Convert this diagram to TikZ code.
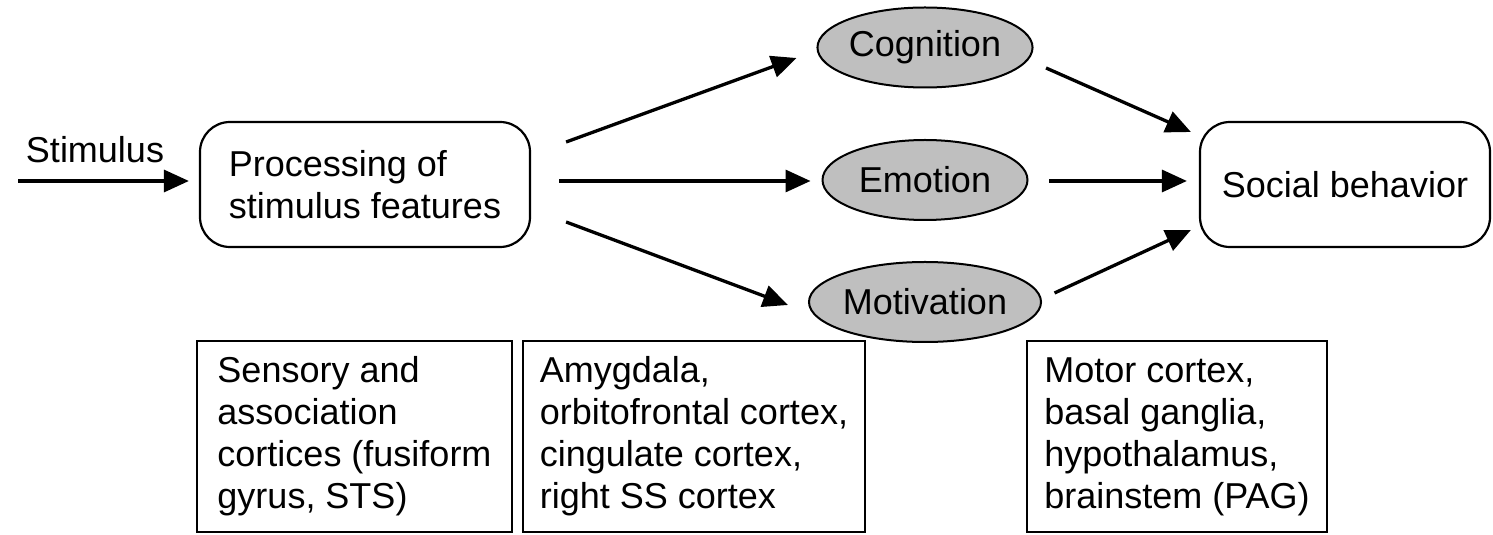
\documentclass[tikz,border=0pt]{standalone}
\usepackage{fontspec}
\setmainfont{Liberation Sans}
\usetikzlibrary{shapes.geometric,arrows.meta}
\begin{document}
\begin{tikzpicture}[x=1pt,y=1pt,
  every node/.style={font=\fontsize{36}{42}\selectfont, inner sep=0pt},
  rbox/.style={draw, line width=2.2pt, rounded corners=30pt, minimum width=330pt, minimum height=125pt, align=left},
  oval/.style={ellipse, draw, line width=2pt, fill=black!25, minimum width=205pt, minimum height=80pt},
  sqbox/.style={draw, line width=2.2pt, minimum height=191pt, align=left},
  arr/.style={line width=3.3pt, -{Triangle[length=25pt,width=22pt]}}
]
\useasboundingbox (0,0) rectangle (1493,535);
\node (stim) at (95,385) {Stimulus};
\coordinate (s0) at (18,354);
\node[rbox] (proc) at (365,350.5) {Processing of\\stimulus features};
\node[oval] (cog) at (925,487.5) {Cognition};
\node[oval] (emo) at (925,355) {Emotion};
\node[oval] (mot) at (925,233) {Motivation};
\node[rbox, minimum width=290pt, align=center] (soc) at (1345,350.5) {Social behavior};
\node[sqbox, minimum width=315pt] (b1) at (354.5,98.5) {Sensory and\\association\\cortices (fusiform\\gyrus, STS)};
\node[sqbox, minimum width=342pt] (b2) at (694,98.5) {Amygdala,\\orbitofrontal cortex,\\cingulate cortex,\\right SS cortex};
\node[sqbox, minimum width=300pt] (b3) at (1177,98.5) {Motor cortex,\\basal ganglia,\\hypothalamus,\\brainstem (PAG)};
\draw[arr, shorten >=10pt] (s0) -- (s0 -| proc.west);
\draw[arr] ([shift={(35,42.5)}]proc.east) -- ([shift={(-20,-10.5)}]cog.west);
\draw[arr] ([shift={(28,3.5)}]proc.east) -- ([shift={(-11,-1)}]emo.west);
\draw[arr] ([shift={(35,-37.5)}]proc.east) -- ([shift={(-20,-3)}]mot.west);
\draw[arr] ([shift={(12.5,-20.5)}]cog.east) -- ([shift={(-8,52.5)}]soc.west);
\draw[arr] ([shift={(20.5,-1)}]emo.east) -- ([shift={(-12,3.5)}]soc.west);
\draw[arr] ([shift={(12.5,9)}]mot.east) -- ([shift={(-8,-45.5)}]soc.west);
\end{tikzpicture}
\end{document}
